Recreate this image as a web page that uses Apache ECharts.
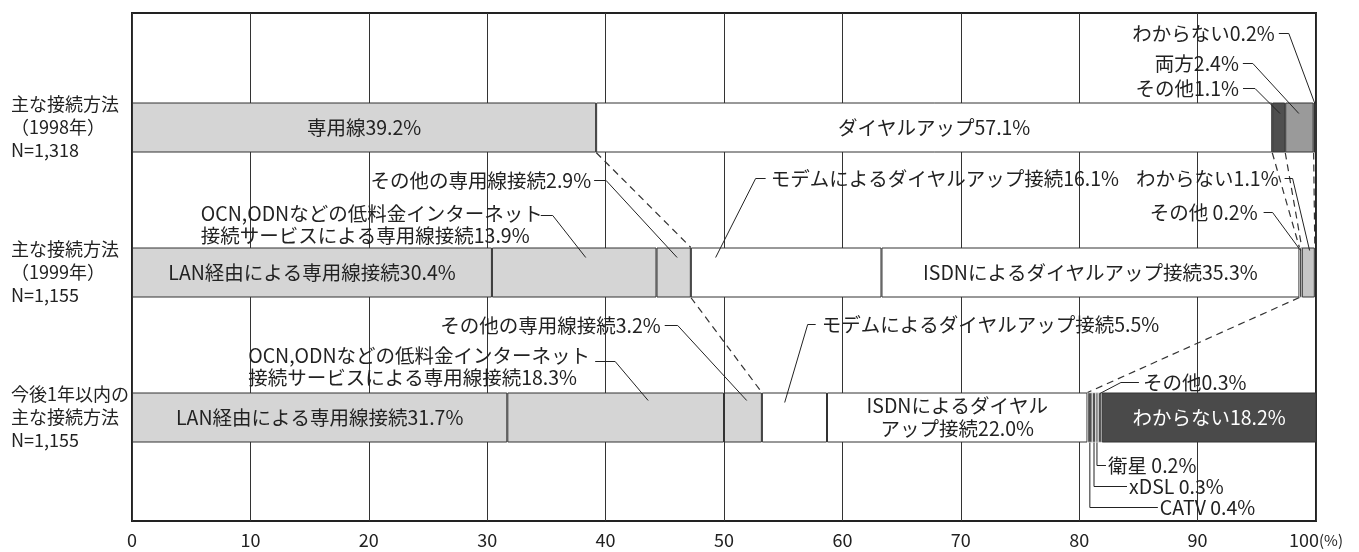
<!DOCTYPE html>
<html>
<head>
<meta charset="utf-8">
<script src="https://cdn.jsdelivr.net/npm/echarts@6/dist/echarts.min.js"></script>
<style>
  html, body { margin: 0; padding: 0; background: #fff; }
  #chart { width: 1359px; height: 552px; }
</style>
</head>
<body>
<div id="chart"></div>
<script>
// categories (top to bottom)
const rowLabels = [
  '主な接続方法\n（1998年）\nN=1,318',
  '主な接続方法\n（1999年）\nN=1,155',
  '今後1年以内の\n主な接続方法\nN=1,155',
];

// 1998
const segNames1998 = ['専用線', 'ダイヤルアップ', 'その他', '両方', 'わからない'];
const segValues1998 = [39.2, 57.1, 1.1, 2.4, 0.2];

// 1999
const segNames1999 = [
  'LAN経由による専用線接続',
  'OCN,ODNなどの低料金インターネット\n接続サービスによる専用線接続',
  'その他の専用線接続',
  'モデムによるダイヤルアップ接続',
  'ISDNによるダイヤルアップ接続',
  'その他',
  'わからない',
];
const segValues1999 = [30.4, 13.9, 2.9, 16.1, 35.3, 0.2, 1.1];

// within a year
const segNamesPlan = [
  'LAN経由による専用線接続',
  'OCN,ODNなどの低料金インターネット\n接続サービスによる専用線接続',
  'その他の専用線接続',
  'モデムによるダイヤルアップ接続',
  'ISDNによるダイヤル\nアップ接続',
  'CATV',
  'xDSL',
  '衛星',
  'その他',
  'わからない',
];
const segValuesPlan = [31.7, 18.3, 3.2, 5.5, 22.0, 0.4, 0.3, 0.2, 0.3, 18.2];

// styles
const LIGHT = '#d5d5d5';
const WHITE = '#ffffff';
const PALE = '#c6c6c6';
const MID = '#9a9a9a';
const DARK = '#4f4f4f';
const DARKEST = '#161616';
const FONT = '"Noto Sans CJK JP", "Noto Sans", sans-serif';
const TEXT = '#222';
const FS = 19.5;

const rows = [
  { names: segNames1998, values: segValues1998, colors: [LIGHT, WHITE, DARK, MID, DARKEST], inside: [0, 1] },
  { names: segNames1999, values: segValues1999, colors: [LIGHT, LIGHT, LIGHT, WHITE, WHITE, '#333', PALE], inside: [0, 4] },
  { names: segNamesPlan, values: segValuesPlan, colors: [LIGHT, LIGHT, LIGHT, WHITE, WHITE, DARK, DARK, DARK, DARK, '#4a4a4a'], inside: [0, 4, 9] },
];

const BAR_W = 50;

function pct(v) {
  return v.toFixed(1) + '%';
}

const series = [];
rows.forEach((row, r) => {
  row.values.forEach((v, i) => {
    const dark = row.colors[i] === '#4a4a4a';
    const thin = v < 1 && row.colors[i] !== DARKEST;
    series.push({
      type: 'bar',
      stack: 'total',
      xAxisIndex: 1,
      yAxisIndex: 1,
      barWidth: BAR_W,
      data: rowLabels.map((_, k) => (k === r ? v : '-')),
      itemStyle: {
        color: row.colors[i],
        borderColor: thin ? '#e8e8e8' : '#333',
        borderWidth: thin ? 0.6 : 1,
      },
      label: {
        show: row.inside.includes(i),
        position: 'inside',
        formatter: () => row.names[i] + pct(v),
        color: dark ? '#fff' : TEXT,
        fontFamily: FONT,
        fontSize: FS,
        lineHeight: 23,
      },
      emphasis: { disabled: true },
      silent: true,
      animation: false,
    });
  });
});

const chart = echarts.init(document.getElementById('chart'));

chart.setOption({
  animation: false,
  grid: [
    { left: 132, right: 43, top: 13, bottom: 31, show: true, borderColor: '#222', borderWidth: 2, backgroundColor: 'transparent' },
    { left: 132, right: 43, top: 55, height: 435 },
  ],
  xAxis: [
    {
      gridIndex: 0,
      type: 'value',
      min: 0,
      max: 100,
      interval: 10,
      axisLine: { show: false },
      axisTick: { show: false },
      splitLine: { show: true, lineStyle: { color: '#333', width: 1 } },
      axisLabel: {
        margin: 10,
        color: TEXT,
        fontFamily: FONT,
        fontSize: 18,
        formatter: (val) => (val === 100 ? '100{u|(%)}' : String(val)),
        rich: { u: { fontSize: 15, fontFamily: FONT, color: TEXT } },
      },
    },
    {
      gridIndex: 1,
      type: 'value',
      min: 0,
      max: 100,
      show: false,
    },
  ],
  yAxis: [
    { gridIndex: 0, type: 'value', show: false },
    {
      gridIndex: 1,
      type: 'category',
      inverse: true,
      data: rowLabels,
      axisLine: { show: false },
      axisTick: { show: false },
      splitLine: { show: false },
      axisLabel: {
        align: 'left',
        margin: 121,
        color: TEXT,
        fontFamily: FONT,
        fontSize: 18,
        lineHeight: 23,
      },
    },
  ],
  series,
});

// leader-line annotations: row, segment, fraction along the segment,
// edge of the bar, inset, leader path (relative to target), text offset
const annotations = [
  { r: 0, s: 4, f: 0.5, edge: 'top', inset: 1, path: [[-26, -70], [-36, -70]], t: [-40, -70], align: 'right' },
  { r: 0, s: 3, f: 0.48, edge: 'top', inset: 11, path: [[-46, -50], [-56, -50]], t: [-60, -50], align: 'right' },
  { r: 0, s: 2, f: 0.6, edge: 'top', inset: 11, path: [[-25, -25], [-37, -25]], t: [-41, -25], align: 'right' },

  { r: 1, s: 2, f: 0.6, edge: 'top', inset: 10, path: [[-71, -77], [-83, -77]], t: [-86, -77], align: 'right' },
  { r: 1, s: 1, f: 0.57, edge: 'top', inset: 10, path: [[-33, -42], [-45, -42]], t: [-385, -33], align: 'left' },
  { r: 1, s: 3, f: 0.13, edge: 'top', inset: 10, path: [[40, -79], [50, -79]], t: [55, -79], align: 'left' },
  { r: 1, s: 6, f: 0.6, edge: 'top', inset: 3, path: [[-17, -72], [-25, -72]], t: [-31, -72], align: 'right' },
  { r: 1, s: 5, f: 0.5, edge: 'top', inset: 3, path: [[-28, -38], [-37, -38]], t: [-43, -38], align: 'right', sep: ' ' },

  { r: 2, s: 2, f: 0.6, edge: 'top', inset: 8, path: [[-69, -75], [-82, -75]], t: [-86, -75], align: 'right' },
  { r: 2, s: 1, f: 0.65, edge: 'top', inset: 8, path: [[-33, -39], [-53, -39]], t: [-400, -34], align: 'left' },
  { r: 2, s: 3, f: 0.35, edge: 'top', inset: 10, path: [[23, -78], [31, -78]], t: [37, -78], align: 'left' },
  { r: 2, s: 8, f: 0.5, edge: 'top', inset: 1, path: [[21, -11], [39, -11]], t: [43, -11], align: 'left' },
  { r: 2, s: 7, f: 0.5, edge: 'bottom', inset: 0, path: [[0, 23], [9, 23]], t: [11, 23], align: 'left', sep: ' ' },
  { r: 2, s: 6, f: 0.5, edge: 'bottom', inset: 0, path: [[0, 44], [33, 44]], t: [35, 44], align: 'left', sep: ' ' },
  { r: 2, s: 5, f: 0.5, edge: 'bottom', inset: 0, path: [[0, 65], [68, 65]], t: [70, 65], align: 'left', sep: ' ' },
];

// dashed connectors: boundary after segment a of row ra -> boundary after segment b of row rb
const connectors = [
  [0, 0, 1, 2],
  [0, 1, 1, 4],
  [0, 2, 1, 5],
  [0, 3, 1, 6],
  [1, 2, 2, 2],
  [1, 4, 2, 4],
];

function cumTo(r, i) {
  return rows[r].values.slice(0, i + 1).reduce((a, b) => a + b, 0);
}

function toPx(v, r) {
  return chart.convertToPixel({ gridIndex: 1 }, [v, r]);
}

const graphics = [];

annotations.forEach((a) => {
  const start = cumTo(a.r, a.s) - rows[a.r].values[a.s];
  const v = start + rows[a.r].values[a.s] * a.f;
  const p = toPx(v, a.r);
  const tx = p[0];
  const ty = a.edge === 'top' ? p[1] - BAR_W / 2 + a.inset : p[1] + BAR_W / 2 - a.inset;
  const pts = [[tx, ty]].concat(a.path.map((d) => [tx + d[0], ty + d[1]]));
  graphics.push({
    type: 'polyline',
    z: 100,
    silent: true,
    shape: { points: pts },
    style: { stroke: '#222', lineWidth: 1, fill: null },
  });
  graphics.push({
    type: 'text',
    z: 100,
    silent: true,
    x: tx + a.t[0],
    y: ty + a.t[1],
    style: {
      text: rows[a.r].names[a.s] + (a.sep || '') + pct(rows[a.r].values[a.s]),
      font: FS + 'px ' + FONT,
      fill: TEXT,
      textAlign: a.align,
      textVerticalAlign: 'middle',
      lineHeight: 22,
    },
  });
});

connectors.forEach(([ra, a, rb, b]) => {
  const p1 = toPx(cumTo(ra, a), ra);
  const p2 = toPx(cumTo(rb, b), rb);
  graphics.push({
    type: 'line',
    z: 90,
    silent: true,
    shape: { x1: p1[0], y1: p1[1] + BAR_W / 2, x2: p2[0], y2: p2[1] - BAR_W / 2 },
    style: { stroke: '#333', lineWidth: 1.2, lineDash: [7, 5] },
  });
});

chart.setOption({ graphic: graphics });

window.addEventListener('resize', () => chart.resize());
</script>
</body>
</html>
